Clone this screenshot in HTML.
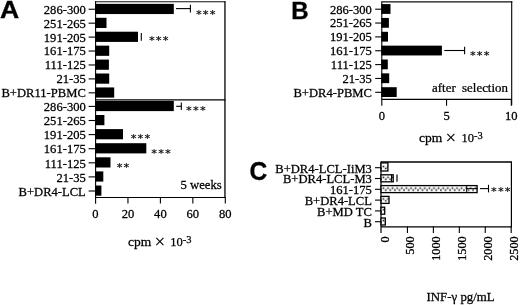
<!DOCTYPE html>
<html><head><meta charset="utf-8"><style>
html,body{margin:0;padding:0;background:#fff;}
svg{display:block;}
</style></head><body>
<svg width="520" height="305" viewBox="0 0 520 305">
<defs><pattern id="dots" x="381.1" y="162.1" width="4.6" height="10.8" patternUnits="userSpaceOnUse">
<rect width="4.6" height="10.8" fill="#fff"/>
<rect x="1.5" y="3.65" width="1.6" height="1.6" fill="#1a1a1a"/><rect x="-0.8" y="5.55" width="1.6" height="1.6" fill="#1a1a1a"/><rect x="3.8" y="5.55" width="1.6" height="1.6" fill="#1a1a1a"/></pattern></defs>
<rect width="520" height="305" fill="#fff"/>
<text transform="translate(-0.10,18.30) scale(1.08,1)" font-size="24.6" text-anchor="start" font-family='"Liberation Sans", Arial, sans-serif' font-weight="bold" stroke="#000" stroke-width="0.35">A</text>
<line x1="95.60" y1="1.00" x2="95.60" y2="203.70" stroke="#000" stroke-width="1.1"/>
<line x1="95.60" y1="1.80" x2="225.40" y2="1.80" stroke="#111" stroke-width="1.1"/>
<line x1="224.95" y1="1.30" x2="224.95" y2="198.00" stroke="#000" stroke-width="1.3"/>
<line x1="95.60" y1="99.90" x2="225.50" y2="99.90" stroke="#000" stroke-width="1.2"/>
<line x1="95.60" y1="197.50" x2="225.50" y2="197.50" stroke="#000" stroke-width="1.2"/>
<line x1="127.95" y1="197.00" x2="127.95" y2="203.50" stroke="#000" stroke-width="1.1"/>
<line x1="160.40" y1="197.00" x2="160.40" y2="203.50" stroke="#000" stroke-width="1.1"/>
<line x1="192.85" y1="197.00" x2="192.85" y2="203.50" stroke="#000" stroke-width="1.1"/>
<line x1="225.30" y1="197.00" x2="225.30" y2="203.50" stroke="#000" stroke-width="1.1"/>
<text transform="translate(95.50,218.30) scale(1.05,1)" font-size="12" text-anchor="middle" font-family='"Liberation Serif", "Times New Roman", serif' font-weight="normal"  stroke="#000" stroke-width="0.25">0</text>
<text transform="translate(127.95,218.30) scale(1.05,1)" font-size="12" text-anchor="middle" font-family='"Liberation Serif", "Times New Roman", serif' font-weight="normal"  stroke="#000" stroke-width="0.25">20</text>
<text transform="translate(160.40,218.30) scale(1.05,1)" font-size="12" text-anchor="middle" font-family='"Liberation Serif", "Times New Roman", serif' font-weight="normal"  stroke="#000" stroke-width="0.25">40</text>
<text transform="translate(192.85,218.30) scale(1.05,1)" font-size="12" text-anchor="middle" font-family='"Liberation Serif", "Times New Roman", serif' font-weight="normal"  stroke="#000" stroke-width="0.25">60</text>
<text transform="translate(225.30,218.30) scale(1.05,1)" font-size="12" text-anchor="middle" font-family='"Liberation Serif", "Times New Roman", serif' font-weight="normal"  stroke="#000" stroke-width="0.25">80</text>
<text transform="translate(127.90,245.50) scale(1.04,1)" font-size="13" text-anchor="start" font-family='"Liberation Serif", "Times New Roman", serif' font-weight="normal"  stroke="#000" stroke-width="0.25">cpm</text>
<text transform="translate(154.00,245.50) scale(1.0,1)" font-size="14" text-anchor="start" font-family='"DejaVu Sans", sans-serif' font-weight="normal" >&#215;</text>
<text transform="translate(170.30,246.00) scale(1.0,1)" font-size="12.5" text-anchor="start" font-family='"Liberation Serif", "Times New Roman", serif' font-weight="normal"  stroke="#000" stroke-width="0.25">10</text>
<text transform="translate(182.80,242.50) scale(1.0,1)" font-size="10.5" text-anchor="start" font-family='"Liberation Serif", "Times New Roman", serif' font-weight="normal"  stroke="#000" stroke-width="0.25">-3</text>
<text transform="translate(221.80,188.60) scale(1.06,1)" font-size="12" text-anchor="end" font-family='"Liberation Serif", "Times New Roman", serif' font-weight="normal"  stroke="#000" stroke-width="0.25">5 weeks</text>
<rect x="95.00" y="3.85" width="78.80" height="10.20" fill="#000" />
<line x1="88.60" y1="9.25" x2="95.60" y2="9.25" stroke="#000" stroke-width="1.1"/>
<text transform="translate(85.80,13.65) scale(1.05,1)" font-size="12" text-anchor="end" font-family='"Liberation Serif", "Times New Roman", serif' font-weight="normal"  stroke="#000" stroke-width="0.25">286-300</text>
<rect x="95.00" y="17.78" width="11.50" height="10.20" fill="#000" />
<line x1="88.60" y1="23.18" x2="95.60" y2="23.18" stroke="#000" stroke-width="1.1"/>
<text transform="translate(85.80,27.58) scale(1.05,1)" font-size="12" text-anchor="end" font-family='"Liberation Serif", "Times New Roman", serif' font-weight="normal"  stroke="#000" stroke-width="0.25">251-265</text>
<rect x="95.00" y="31.71" width="43.00" height="10.20" fill="#000" />
<line x1="88.60" y1="37.11" x2="95.60" y2="37.11" stroke="#000" stroke-width="1.1"/>
<text transform="translate(85.80,41.51) scale(1.05,1)" font-size="12" text-anchor="end" font-family='"Liberation Serif", "Times New Roman", serif' font-weight="normal"  stroke="#000" stroke-width="0.25">191-205</text>
<rect x="95.00" y="45.64" width="14.20" height="10.20" fill="#000" />
<line x1="88.60" y1="51.04" x2="95.60" y2="51.04" stroke="#000" stroke-width="1.1"/>
<text transform="translate(85.80,55.44) scale(1.05,1)" font-size="12" text-anchor="end" font-family='"Liberation Serif", "Times New Roman", serif' font-weight="normal"  stroke="#000" stroke-width="0.25">161-175</text>
<rect x="95.00" y="59.57" width="13.90" height="10.20" fill="#000" />
<line x1="88.60" y1="64.97" x2="95.60" y2="64.97" stroke="#000" stroke-width="1.1"/>
<text transform="translate(85.80,69.37) scale(1.05,1)" font-size="12" text-anchor="end" font-family='"Liberation Serif", "Times New Roman", serif' font-weight="normal"  stroke="#000" stroke-width="0.25">111-125</text>
<rect x="95.00" y="73.50" width="14.20" height="10.20" fill="#000" />
<line x1="88.60" y1="78.90" x2="95.60" y2="78.90" stroke="#000" stroke-width="1.1"/>
<text transform="translate(85.80,83.30) scale(1.05,1)" font-size="12" text-anchor="end" font-family='"Liberation Serif", "Times New Roman", serif' font-weight="normal"  stroke="#000" stroke-width="0.25">21-35</text>
<rect x="95.00" y="87.43" width="19.20" height="10.20" fill="#000" />
<line x1="88.60" y1="92.83" x2="95.60" y2="92.83" stroke="#000" stroke-width="1.1"/>
<text transform="translate(85.80,97.23) scale(1.05,1)" font-size="12" text-anchor="end" font-family='"Liberation Serif", "Times New Roman", serif' font-weight="normal"  stroke="#000" stroke-width="0.25">B+DR11-PBMC</text>
<rect x="95.00" y="100.90" width="78.80" height="10.20" fill="#000" />
<line x1="88.60" y1="106.40" x2="95.60" y2="106.40" stroke="#000" stroke-width="1.1"/>
<text transform="translate(85.80,111.10) scale(1.05,1)" font-size="12" text-anchor="end" font-family='"Liberation Serif", "Times New Roman", serif' font-weight="normal"  stroke="#000" stroke-width="0.25">286-300</text>
<rect x="95.00" y="115.00" width="9.40" height="10.20" fill="#000" />
<line x1="88.60" y1="120.50" x2="95.60" y2="120.50" stroke="#000" stroke-width="1.1"/>
<text transform="translate(85.80,125.20) scale(1.05,1)" font-size="12" text-anchor="end" font-family='"Liberation Serif", "Times New Roman", serif' font-weight="normal"  stroke="#000" stroke-width="0.25">251-265</text>
<rect x="95.00" y="129.10" width="28.00" height="10.20" fill="#000" />
<line x1="88.60" y1="134.60" x2="95.60" y2="134.60" stroke="#000" stroke-width="1.1"/>
<text transform="translate(85.80,139.30) scale(1.05,1)" font-size="12" text-anchor="end" font-family='"Liberation Serif", "Times New Roman", serif' font-weight="normal"  stroke="#000" stroke-width="0.25">191-205</text>
<rect x="95.00" y="143.20" width="51.30" height="10.20" fill="#000" />
<line x1="88.60" y1="148.70" x2="95.60" y2="148.70" stroke="#000" stroke-width="1.1"/>
<text transform="translate(85.80,153.40) scale(1.05,1)" font-size="12" text-anchor="end" font-family='"Liberation Serif", "Times New Roman", serif' font-weight="normal"  stroke="#000" stroke-width="0.25">161-175</text>
<rect x="95.00" y="157.30" width="15.50" height="10.20" fill="#000" />
<line x1="88.60" y1="162.80" x2="95.60" y2="162.80" stroke="#000" stroke-width="1.1"/>
<text transform="translate(85.80,167.50) scale(1.05,1)" font-size="12" text-anchor="end" font-family='"Liberation Serif", "Times New Roman", serif' font-weight="normal"  stroke="#000" stroke-width="0.25">111-125</text>
<rect x="95.00" y="171.40" width="8.30" height="10.20" fill="#000" />
<line x1="88.60" y1="176.90" x2="95.60" y2="176.90" stroke="#000" stroke-width="1.1"/>
<text transform="translate(85.80,181.60) scale(1.05,1)" font-size="12" text-anchor="end" font-family='"Liberation Serif", "Times New Roman", serif' font-weight="normal"  stroke="#000" stroke-width="0.25">21-35</text>
<rect x="95.00" y="185.50" width="6.40" height="10.20" fill="#000" />
<line x1="88.60" y1="191.00" x2="95.60" y2="191.00" stroke="#000" stroke-width="1.1"/>
<text transform="translate(85.80,195.70) scale(1.05,1)" font-size="12" text-anchor="end" font-family='"Liberation Serif", "Times New Roman", serif' font-weight="normal"  stroke="#000" stroke-width="0.25">B+DR4-LCL</text>
<line x1="176.00" y1="8.60" x2="190.40" y2="8.60" stroke="#000" stroke-width="1.1"/>
<line x1="190.40" y1="4.70" x2="190.40" y2="12.50" stroke="#000" stroke-width="1.1"/>
<line x1="141.30" y1="33.10" x2="141.30" y2="40.70" stroke="#000" stroke-width="1.1"/>
<line x1="176.20" y1="106.30" x2="181.30" y2="106.30" stroke="#000" stroke-width="1.1"/>
<line x1="181.30" y1="102.50" x2="181.30" y2="110.10" stroke="#000" stroke-width="1.1"/>
<text x="195.92" y="17.62" font-size="11.0" font-family='"DejaVu Sans", sans-serif' font-weight="bold" fill="#1a1a1a" letter-spacing="1.14">***</text>
<text x="148.92" y="43.62" font-size="11.0" font-family='"DejaVu Sans", sans-serif' font-weight="bold" fill="#1a1a1a" letter-spacing="1.14">***</text>
<text x="186.12" y="114.12" font-size="11.0" font-family='"DejaVu Sans", sans-serif' font-weight="bold" fill="#1a1a1a" letter-spacing="1.14">***</text>
<text x="130.72" y="141.92" font-size="11.0" font-family='"DejaVu Sans", sans-serif' font-weight="bold" fill="#1a1a1a" letter-spacing="1.14">***</text>
<text x="151.32" y="156.72" font-size="11.0" font-family='"DejaVu Sans", sans-serif' font-weight="bold" fill="#1a1a1a" letter-spacing="1.14">***</text>
<text x="116.72" y="170.52" font-size="11.0" font-family='"DejaVu Sans", sans-serif' font-weight="bold" fill="#1a1a1a" letter-spacing="1.14">**</text>
<text transform="translate(291.20,18.50) scale(1.0,1)" font-size="24" text-anchor="start" font-family='"Liberation Sans", Arial, sans-serif' font-weight="bold" stroke="#000" stroke-width="0.35">B</text>
<line x1="381.80" y1="1.30" x2="381.80" y2="105.80" stroke="#000" stroke-width="1.1"/>
<line x1="381.80" y1="1.90" x2="512.30" y2="1.90" stroke="#111" stroke-width="1.1"/>
<line x1="511.70" y1="1.30" x2="511.70" y2="105.20" stroke="#000" stroke-width="1.1"/>
<line x1="381.80" y1="99.30" x2="512.00" y2="99.30" stroke="#000" stroke-width="1.2"/>
<line x1="446.55" y1="99.00" x2="446.55" y2="105.80" stroke="#000" stroke-width="1.1"/>
<line x1="511.30" y1="99.00" x2="511.30" y2="105.80" stroke="#000" stroke-width="1.1"/>
<text transform="translate(381.80,120.40) scale(1.05,1)" font-size="12" text-anchor="middle" font-family='"Liberation Serif", "Times New Roman", serif' font-weight="normal"  stroke="#000" stroke-width="0.25">0</text>
<text transform="translate(446.55,120.40) scale(1.05,1)" font-size="12" text-anchor="middle" font-family='"Liberation Serif", "Times New Roman", serif' font-weight="normal"  stroke="#000" stroke-width="0.25">5</text>
<text transform="translate(511.30,120.40) scale(1.05,1)" font-size="12" text-anchor="middle" font-family='"Liberation Serif", "Times New Roman", serif' font-weight="normal"  stroke="#000" stroke-width="0.25">10</text>
<text transform="translate(419.00,141.80) scale(1.04,1)" font-size="13" text-anchor="start" font-family='"Liberation Serif", "Times New Roman", serif' font-weight="normal"  stroke="#000" stroke-width="0.25">cpm</text>
<text transform="translate(445.10,141.80) scale(1.0,1)" font-size="14" text-anchor="start" font-family='"DejaVu Sans", sans-serif' font-weight="normal" >&#215;</text>
<text transform="translate(461.40,142.30) scale(1.0,1)" font-size="12.5" text-anchor="start" font-family='"Liberation Serif", "Times New Roman", serif' font-weight="normal"  stroke="#000" stroke-width="0.25">10</text>
<text transform="translate(473.90,138.80) scale(1.0,1)" font-size="10.5" text-anchor="start" font-family='"Liberation Serif", "Times New Roman", serif' font-weight="normal"  stroke="#000" stroke-width="0.25">-3</text>
<text transform="translate(507.90,91.70) scale(1.075,1)" font-size="12" text-anchor="end" font-family='"Liberation Serif", "Times New Roman", serif' font-weight="normal"  stroke="#000" stroke-width="0.25">after&#160; selection</text>
<rect x="381.30" y="4.10" width="9.20" height="9.80" fill="#000" />
<line x1="375.20" y1="9.20" x2="381.80" y2="9.20" stroke="#000" stroke-width="1.1"/>
<text transform="translate(371.90,13.60) scale(1.05,1)" font-size="12" text-anchor="end" font-family='"Liberation Serif", "Times New Roman", serif' font-weight="normal"  stroke="#000" stroke-width="0.25">286-300</text>
<rect x="381.30" y="17.95" width="7.60" height="9.80" fill="#000" />
<line x1="375.20" y1="23.05" x2="381.80" y2="23.05" stroke="#000" stroke-width="1.1"/>
<text transform="translate(371.90,27.45) scale(1.05,1)" font-size="12" text-anchor="end" font-family='"Liberation Serif", "Times New Roman", serif' font-weight="normal"  stroke="#000" stroke-width="0.25">251-265</text>
<rect x="381.30" y="31.80" width="6.70" height="9.80" fill="#000" />
<line x1="375.20" y1="36.90" x2="381.80" y2="36.90" stroke="#000" stroke-width="1.1"/>
<text transform="translate(371.90,41.30) scale(1.05,1)" font-size="12" text-anchor="end" font-family='"Liberation Serif", "Times New Roman", serif' font-weight="normal"  stroke="#000" stroke-width="0.25">191-205</text>
<rect x="381.30" y="45.65" width="60.60" height="9.80" fill="#000" />
<line x1="375.20" y1="50.75" x2="381.80" y2="50.75" stroke="#000" stroke-width="1.1"/>
<text transform="translate(371.90,55.15) scale(1.05,1)" font-size="12" text-anchor="end" font-family='"Liberation Serif", "Times New Roman", serif' font-weight="normal"  stroke="#000" stroke-width="0.25">161-175</text>
<rect x="381.30" y="59.50" width="6.50" height="9.80" fill="#000" />
<line x1="375.20" y1="64.60" x2="381.80" y2="64.60" stroke="#000" stroke-width="1.1"/>
<text transform="translate(371.90,69.00) scale(1.05,1)" font-size="12" text-anchor="end" font-family='"Liberation Serif", "Times New Roman", serif' font-weight="normal"  stroke="#000" stroke-width="0.25">111-125</text>
<rect x="381.30" y="73.35" width="7.90" height="9.80" fill="#000" />
<line x1="375.20" y1="78.45" x2="381.80" y2="78.45" stroke="#000" stroke-width="1.1"/>
<text transform="translate(371.90,82.85) scale(1.05,1)" font-size="12" text-anchor="end" font-family='"Liberation Serif", "Times New Roman", serif' font-weight="normal"  stroke="#000" stroke-width="0.25">21-35</text>
<rect x="381.30" y="87.20" width="15.40" height="9.80" fill="#000" />
<line x1="375.20" y1="92.30" x2="381.80" y2="92.30" stroke="#000" stroke-width="1.1"/>
<text transform="translate(371.90,96.70) scale(1.05,1)" font-size="12" text-anchor="end" font-family='"Liberation Serif", "Times New Roman", serif' font-weight="normal"  stroke="#000" stroke-width="0.25">B+DR4-PBMC</text>
<line x1="444.30" y1="50.50" x2="464.60" y2="50.50" stroke="#000" stroke-width="1.1"/>
<line x1="464.60" y1="46.85" x2="464.60" y2="54.15" stroke="#000" stroke-width="1.1"/>
<text x="469.92" y="58.52" font-size="11.0" font-family='"DejaVu Sans", sans-serif' font-weight="bold" fill="#1a1a1a" letter-spacing="1.14">***</text>
<text transform="translate(249.40,180.40) scale(0.95,1)" font-size="25.8" text-anchor="start" font-family='"Liberation Sans", Arial, sans-serif' font-weight="bold" stroke="#000" stroke-width="0.35">C</text>
<line x1="381.00" y1="161.50" x2="381.00" y2="233.00" stroke="#000" stroke-width="1.2"/>
<line x1="381.00" y1="162.00" x2="511.80" y2="162.00" stroke="#000" stroke-width="1.3"/>
<line x1="511.40" y1="161.50" x2="511.40" y2="227.40" stroke="#000" stroke-width="1.2"/>
<line x1="381.00" y1="226.90" x2="511.80" y2="226.90" stroke="#000" stroke-width="1.3"/>
<line x1="407.44" y1="226.50" x2="407.44" y2="233.00" stroke="#000" stroke-width="1.1"/>
<line x1="433.38" y1="226.50" x2="433.38" y2="233.00" stroke="#000" stroke-width="1.1"/>
<line x1="459.32" y1="226.50" x2="459.32" y2="233.00" stroke="#000" stroke-width="1.1"/>
<line x1="485.26" y1="226.50" x2="485.26" y2="233.00" stroke="#000" stroke-width="1.1"/>
<line x1="511.20" y1="226.50" x2="511.20" y2="233.00" stroke="#000" stroke-width="1.1"/>
<text transform="translate(388.50,236.4) rotate(-90) scale(1,1.08)" font-size="12.2" text-anchor="end" font-family='"Liberation Serif", "Times New Roman", serif' stroke="#000" stroke-width="0.25">0</text>
<text transform="translate(414.44,236.4) rotate(-90) scale(1,1.08)" font-size="12.2" text-anchor="end" font-family='"Liberation Serif", "Times New Roman", serif' stroke="#000" stroke-width="0.25">500</text>
<text transform="translate(440.38,236.4) rotate(-90) scale(1,1.08)" font-size="12.2" text-anchor="end" font-family='"Liberation Serif", "Times New Roman", serif' stroke="#000" stroke-width="0.25">1000</text>
<text transform="translate(466.32,236.4) rotate(-90) scale(1,1.08)" font-size="12.2" text-anchor="end" font-family='"Liberation Serif", "Times New Roman", serif' stroke="#000" stroke-width="0.25">1500</text>
<text transform="translate(492.26,236.4) rotate(-90) scale(1,1.08)" font-size="12.2" text-anchor="end" font-family='"Liberation Serif", "Times New Roman", serif' stroke="#000" stroke-width="0.25">2000</text>
<text transform="translate(518.20,236.4) rotate(-90) scale(1,1.08)" font-size="12.2" text-anchor="end" font-family='"Liberation Serif", "Times New Roman", serif' stroke="#000" stroke-width="0.25">2500</text>
<text transform="translate(426.50,300.80) scale(1.03,1)" font-size="12.5" text-anchor="start" font-family='"Liberation Serif", "Times New Roman", serif' font-weight="normal"  stroke="#000" stroke-width="0.25">INF-&#947;&#160;pg/mL</text>
<rect x="381.0" y="162.90" width="6.90" height="8.10" fill="url(#dots)" stroke="#000" stroke-width="1.3"/>
<line x1="375.00" y1="167.70" x2="381.00" y2="167.70" stroke="#000" stroke-width="1.1"/>
<text transform="translate(371.90,172.50) scale(1.05,1)" font-size="12" text-anchor="end" font-family='"Liberation Serif", "Times New Roman", serif' font-weight="normal"  stroke="#000" stroke-width="0.25">B+DR4-LCL-IiM3</text>
<rect x="381.0" y="174.80" width="12.20" height="7.00" fill="url(#dots)" stroke="#000" stroke-width="1.3"/>
<line x1="375.00" y1="178.50" x2="381.00" y2="178.50" stroke="#000" stroke-width="1.1"/>
<text transform="translate(371.90,183.30) scale(1.05,1)" font-size="12" text-anchor="end" font-family='"Liberation Serif", "Times New Roman", serif' font-weight="normal"  stroke="#000" stroke-width="0.25">B+DR4-LCL-M3</text>
<rect x="381.0" y="185.60" width="96.10" height="7.00" fill="url(#dots)" stroke="#000" stroke-width="1.3"/>
<line x1="375.00" y1="189.30" x2="381.00" y2="189.30" stroke="#000" stroke-width="1.1"/>
<text transform="translate(371.90,194.10) scale(1.05,1)" font-size="12" text-anchor="end" font-family='"Liberation Serif", "Times New Roman", serif' font-weight="normal"  stroke="#000" stroke-width="0.25">161-175</text>
<rect x="381.0" y="196.40" width="8.00" height="7.00" fill="url(#dots)" stroke="#000" stroke-width="1.3"/>
<line x1="375.00" y1="200.10" x2="381.00" y2="200.10" stroke="#000" stroke-width="1.1"/>
<text transform="translate(371.90,204.90) scale(1.05,1)" font-size="12" text-anchor="end" font-family='"Liberation Serif", "Times New Roman", serif' font-weight="normal"  stroke="#000" stroke-width="0.25">B+DR4-LCL</text>
<rect x="381.0" y="207.20" width="3.70" height="7.00" fill="url(#dots)" stroke="#000" stroke-width="1.3"/>
<line x1="375.00" y1="210.90" x2="381.00" y2="210.90" stroke="#000" stroke-width="1.1"/>
<text transform="translate(371.90,215.70) scale(1.05,1)" font-size="12" text-anchor="end" font-family='"Liberation Serif", "Times New Roman", serif' font-weight="normal"  stroke="#000" stroke-width="0.25">B+MD TC</text>
<rect x="381.0" y="218.00" width="4.30" height="7.00" fill="url(#dots)" stroke="#000" stroke-width="1.3"/>
<line x1="375.00" y1="221.70" x2="381.00" y2="221.70" stroke="#000" stroke-width="1.1"/>
<text transform="translate(371.90,226.50) scale(1.05,1)" font-size="12" text-anchor="end" font-family='"Liberation Serif", "Times New Roman", serif' font-weight="normal"  stroke="#000" stroke-width="0.25">B</text>
<line x1="391.50" y1="174.60" x2="391.50" y2="181.70" stroke="#000" stroke-width="1.0"/>
<line x1="397.00" y1="174.60" x2="397.00" y2="181.70" stroke="#000" stroke-width="1.2"/>
<line x1="466.70" y1="185.30" x2="466.70" y2="192.30" stroke="#000" stroke-width="1.0"/>
<line x1="466.70" y1="188.60" x2="477.70" y2="188.60" stroke="#000" stroke-width="1.0"/>
<line x1="480.00" y1="188.60" x2="488.50" y2="188.60" stroke="#000" stroke-width="1.1"/>
<line x1="488.50" y1="184.80" x2="488.50" y2="192.40" stroke="#000" stroke-width="1.1"/>
<text x="491.02" y="195.32" font-size="11.0" font-family='"DejaVu Sans", sans-serif' font-weight="bold" fill="#1a1a1a" letter-spacing="1.14">***</text>
</svg>
</body></html>
